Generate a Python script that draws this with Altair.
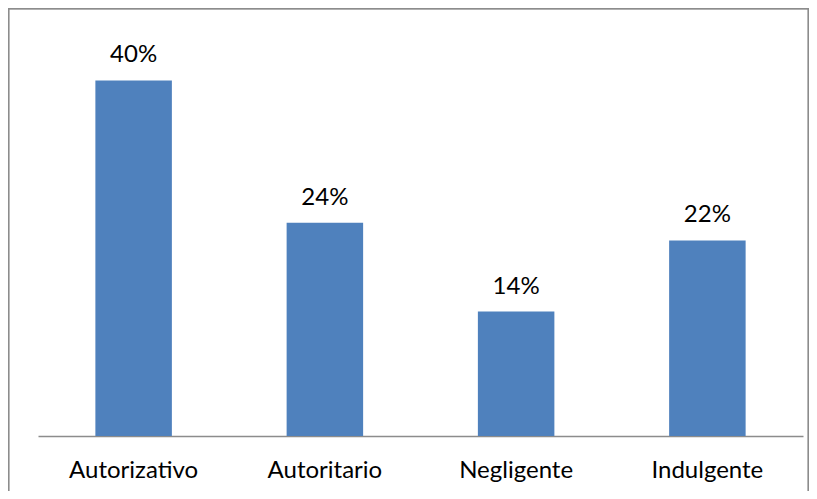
import altair as alt
import pandas as pd

categories = ["Autorizativo", "Autoritario", "Negligente", "Indulgente"]
values = [40, 24, 14, 22]
labels = ["40%", "24%", "14%", "22%"]

df = pd.DataFrame({"cat": categories, "val": values, "lab": labels})

FONT = "Lato"

x = alt.X("cat:N", sort=categories, title=None,
          scale=alt.Scale(paddingInner=0.6, paddingOuter=0.3),
          axis=alt.Axis(labelAngle=0, labelFontSize=24, labelFont=FONT, labelColor="#000000",
                        ticks=False, domainColor="#8c8c8c", domainWidth=1.5, labelPadding=22))
y = alt.Y("val:Q", scale=alt.Scale(domain=[0, 45]), axis=None)

bars = alt.Chart(df).mark_bar(color="#4F81BD").encode(x=x, y=y)
text = alt.Chart(df).mark_text(fontSize=24, font=FONT, color="#000000", baseline="alphabetic", dy=-18).encode(
    x=alt.X("cat:N", sort=categories), y="val:Q", text="lab:N")

frame = alt.Chart(df).mark_rect(fill=None, stroke="#8c8c8c", strokeWidth=1.2).encode(
    x=alt.value(-29.4), x2=alt.value(770.4), y=alt.value(-27.4), y2=alt.value(520))

chart = alt.layer(bars, text, frame).properties(
    width=765, height=400,
    autosize=alt.AutoSizeParams(type="none"),
    padding={"left": 30, "top": 28, "right": 6, "bottom": 55},
).configure_view(stroke=None)

chart.save("out.html", embed_options={"renderer": "svg", "actions": False})
